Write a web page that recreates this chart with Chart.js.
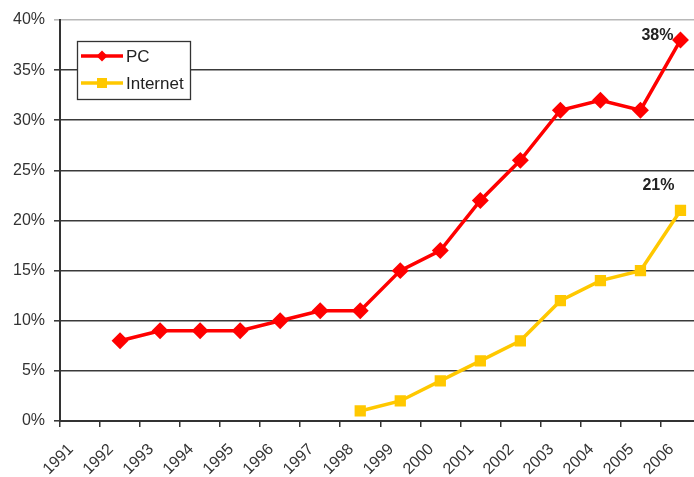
<!DOCTYPE html>
<html>
<head>
<meta charset="utf-8">
<script src="https://cdn.jsdelivr.net/npm/chart.js@4/dist/chart.umd.min.js"></script>
<style>
html,body{margin:0;padding:0;background:#fff;overflow:hidden;}
#wrap{position:relative;width:710px;height:477px;}
</style>
</head>
<body>
<div id="wrap"><canvas id="c"></canvas></div>
<script>
const years = ['1991','1992','1993','1994','1995','1996','1997','1998','1999','2000','2001','2002','2003','2004','2005','2006'];
const pcValues = [null, 8, 9, 9, 9, 10, 11, 11, 15, 17, 22, 26, 31, 32, 31, 38];
const internetValues = [null, null, null, null, null, null, null, 1, 2, 4, 6, 8, 12, 14, 15, 21];
const yTicks = [0, 5, 10, 15, 20, 25, 30, 35, 40];
const seriesNames = ['PC', 'Internet'];

const FONT = 'Liberation Sans, Arial, sans-serif';

const legendPlugin = {
  id: 'boxLegend',
  afterDatasetsDraw(chart) {
    const ctx = chart.ctx;
    ctx.save();
    const bx = 77, by = 41, bw = 113, bh = 58;
    ctx.fillStyle = '#fff';
    ctx.fillRect(bx, by, bw, bh);
    ctx.strokeStyle = '#333';
    ctx.lineWidth = 1.3;
    ctx.strokeRect(bx + 0.5, by + 0.5, bw, bh);
    const rows = [56, 83];
    chart.data.datasets.forEach((ds, i) => {
      const y = rows[i];
      ctx.strokeStyle = ds.borderColor;
      ctx.lineWidth = 3.5;
      ctx.beginPath();
      ctx.moveTo(81, y);
      ctx.lineTo(123, y);
      ctx.stroke();
      ctx.fillStyle = ds.pointBackgroundColor;
      ctx.beginPath();
      if (ds.pointStyle === 'rectRot') {
        const r = 5.5;
        ctx.moveTo(102, y - r); ctx.lineTo(102 + r, y); ctx.lineTo(102, y + r); ctx.lineTo(102 - r, y);
        ctx.closePath();
      } else {
        ctx.rect(102 - 5, y - 5, 10, 10);
      }
      ctx.fill();
      ctx.fillStyle = '#222';
      ctx.font = '17px ' + FONT;
      ctx.textBaseline = 'middle';
      ctx.textAlign = 'left';
      ctx.fillText(ds.label, 126, y + 1);
    });
    const offsets = [{dx: -7, dy: -4}, {dx: -6, dy: -25}];
    ctx.font = 'bold 16px ' + FONT;
    ctx.fillStyle = '#222';
    ctx.textAlign = 'right';
    ctx.textBaseline = 'middle';
    chart.data.datasets.forEach((ds, i) => {
      const meta = chart.getDatasetMeta(i);
      const last = meta.data[meta.data.length - 1];
      const v = ds.data[ds.data.length - 1];
      ctx.fillText(v + '%', last.x + offsets[i].dx, last.y + offsets[i].dy);
    });
    ctx.restore();
  }
};

new Chart(document.getElementById('c'), {
  type: 'line',
  data: {
    labels: years,
    datasets: [
      {
        label: seriesNames[0],
        data: pcValues,
        borderColor: '#ff0000',
        backgroundColor: '#ff0000',
        pointBackgroundColor: '#ff0000',
        pointBorderColor: '#ff0000',
        pointStyle: 'rectRot',
        pointRadius: 6,
        borderWidth: 3.5,
        spanGaps: false
      },
      {
        label: seriesNames[1],
        data: internetValues,
        borderColor: '#ffc800',
        backgroundColor: '#ffc800',
        pointBackgroundColor: '#ffc800',
        pointBorderColor: '#ffc800',
        pointStyle: 'rect',
        pointRadius: 5.5,
        borderWidth: 3.5,
        spanGaps: false
      }
    ]
  },
  options: {
    responsive: true,
    maintainAspectRatio: false,
    animation: false,
    layout: {padding: {top: 20, right: 0, left: 0, bottom: 0}},
    plugins: {legend: {display: false}, tooltip: {enabled: false}},
    scales: {
      x: {
        type: 'category',
        offset: true,
        grid: {offset: true, drawOnChartArea: false, drawTicks: true, tickLength: 6, color: '#333', lineWidth: 1.5},
        border: {display: true, color: '#333', width: 2},
        ticks: {
          autoSkip: false,
          maxRotation: 45,
          minRotation: 45,
          padding: 13,
          labelOffset: -9,
          color: '#333',
          font: {family: FONT, size: 16}
        },
        afterFit(s) { s.height = 56; }
      },
      y: {
        min: 0,
        max: 40,
        afterBuildTicks(s) { s.ticks = yTicks.map(v => ({value: v})); },
        grid: {
          drawTicks: true,
          tickLength: 6,
          color: ctx => (ctx.tick && ctx.tick.value === 40) ? '#b8b8b8' : '#3a3a3a',
          lineWidth: 1.6
        },
        border: {display: true, color: '#333', width: 2},
        ticks: {
          color: '#333',
          padding: 9,
          font: {family: FONT, size: 16},
          callback: v => v + '%'
        },
        afterFit(s) { s.width = 60; }
      }
    }
  },
  plugins: [legendPlugin]
});
</script>
</body>
</html>
